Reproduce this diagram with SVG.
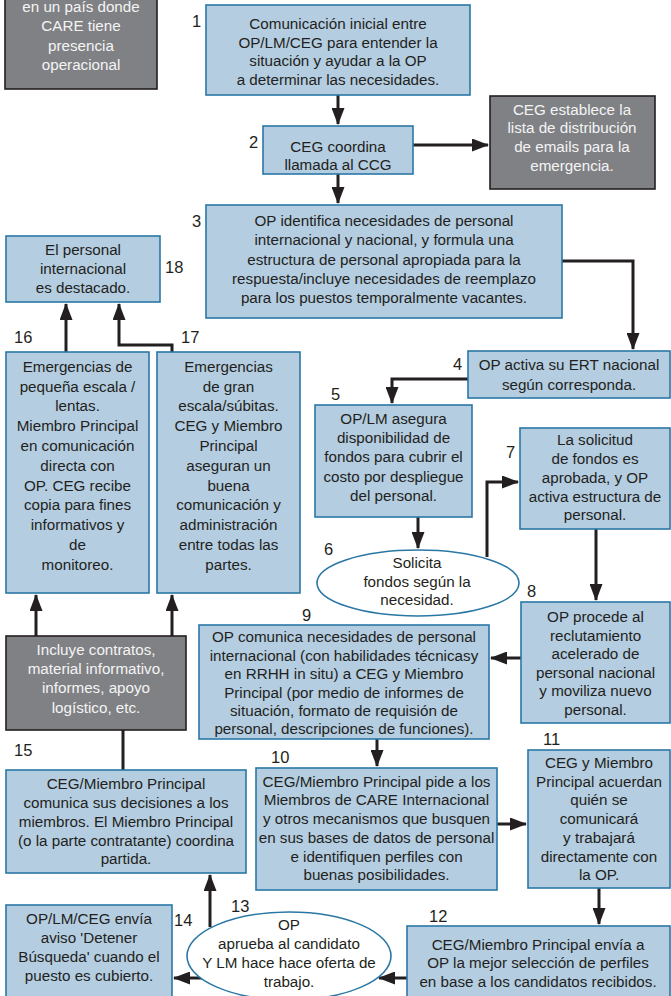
<svg xmlns="http://www.w3.org/2000/svg" width="671" height="996" viewBox="0 0 671 996">
<defs>
<marker id="ah" viewBox="0 0 17 13" refX="16" refY="6.5" markerWidth="17" markerHeight="13" markerUnits="userSpaceOnUse" orient="auto">
<path d="M0,0 L17,6.5 L0,13 z" fill="#231f20"/>
</marker>
<style>
.b{fill:#b4cde1;stroke:#2a77a5;stroke-width:1.6}
.d{fill:#808184;stroke:#231f20;stroke-width:1.6}
text{font-family:"Liberation Sans",Arial,sans-serif;font-size:15.2px;fill:#231f20;text-anchor:middle}
.w{fill:#f4f4f4}
.n{font-size:16.5px;text-anchor:start}
.c{fill:none;stroke:#231f20;stroke-width:3}
.a{marker-end:url(#ah)}
</style>
</defs>
<rect width="671" height="996" fill="#ffffff"/>

<g id="connectors">
<path class="c a" d="M338,95 V124"/>
<path class="c a" d="M338,174 V203"/>
<path class="c a" d="M413,145 H488"/>
<path class="c a" d="M562,261 H633 V349"/>
<path class="c a" d="M468,379 H392 V403"/>
<path class="c a" d="M418,517 V548"/>
<path class="c a" d="M487,557 V482 H518"/>
<path class="c a" d="M596,529 V600"/>
<path class="c a" d="M521,658 H491"/>
<path class="c a" d="M377,739 V766"/>
<path class="c a" d="M497,824 H526"/>
<path class="c a" d="M599,888 V924"/>
<path class="c a" d="M407,978 H379"/>
<path class="c a" d="M203,978 H174"/>
<path class="c a" d="M210,927 V875"/>
<path class="c a" d="M36,636 V595"/>
<path class="c a" d="M172,636 V595"/>
<path class="c" d="M123,730 V770"/>
<path class="c a" d="M66,352 V304"/>
<path class="c a" d="M172,352 V345 H119 V304"/>
</g>

<g id="node-pais">
<rect class="d" x="5" y="-10" width="152" height="99"/>
<text class="w" x="81" y="12">en un país donde</text>
<text class="w" x="81" y="31">CARE tiene</text>
<text class="w" x="81" y="51">presencia</text>
<text class="w" x="81" y="70">operacional</text>
</g>

<g id="node-1">
<rect class="b" x="206" y="5" width="264" height="90"/>
<text x="338" y="29">Comunicación inicial entre</text>
<text x="338" y="48">OP/LM/CEG para entender la</text>
<text x="338" y="66">situación y ayudar a la OP</text>
<text x="338" y="85">a determinar las necesidades.</text>
<text class="n" x="192" y="27">1</text>
</g>

<g id="node-2">
<rect class="b" x="263" y="126" width="150" height="48"/>
<text x="338" y="152">CEG coordina</text>
<text x="338" y="170">llamada al CCG</text>
<text class="n" x="249" y="148">2</text>
</g>

<g id="node-email">
<rect class="d" x="490" y="96" width="165" height="93"/>
<text class="w" x="572" y="115">CEG establece la</text>
<text class="w" x="572" y="133">lista de distribución</text>
<text class="w" x="572" y="152">de emails para la</text>
<text class="w" x="572" y="171">emergencia.</text>
</g>

<g id="node-3">
<rect class="b" x="206" y="205" width="356" height="113"/>
<text x="384" y="226">OP identifica necesidades de personal</text>
<text x="384" y="245">internacional y nacional, y formula una</text>
<text x="384" y="265">estructura de personal apropiada para la</text>
<text x="384" y="284">respuesta/incluye necesidades de reemplazo</text>
<text x="384" y="303">para los puestos temporalmente vacantes.</text>
<text class="n" x="192" y="227">3</text>
</g>

<g id="node-4">
<rect class="b" x="468" y="351" width="202" height="47"/>
<text x="569" y="370">OP activa su ERT nacional</text>
<text x="569" y="390">según corresponda.</text>
<text class="n" x="453" y="370">4</text>
</g>

<g id="node-5">
<rect class="b" x="315" y="405" width="157" height="112"/>
<text x="393.5" y="424">OP/LM asegura</text>
<text x="393.5" y="443">disponibilidad de</text>
<text x="393.5" y="462">fondos para cubrir el</text>
<text x="393.5" y="482">costo por despliegue</text>
<text x="393.5" y="501">del personal.</text>
<text class="n" x="331" y="400">5</text>
</g>

<g id="node-6">
<ellipse cx="418" cy="583" rx="101" ry="33" fill="#ffffff" stroke="#2a77a5" stroke-width="1.6"/>
<text x="417" y="568">Solicita</text>
<text x="417" y="587">fondos según la</text>
<text x="417" y="605">necesidad.</text>
<text class="n" x="324" y="555">6</text>
</g>

<g id="node-7">
<rect class="b" x="520" y="428" width="150" height="101"/>
<text x="595" y="445">La solicitud</text>
<text x="595" y="464">de fondos es</text>
<text x="595" y="483">aprobada, y OP</text>
<text x="595" y="502">activa estructura de</text>
<text x="595" y="520">personal.</text>
<text class="n" x="506" y="458">7</text>
</g>

<g id="node-8">
<rect class="b" x="521" y="602" width="149" height="121"/>
<text x="595.5" y="622">OP procede al</text>
<text x="595.5" y="641">reclutamiento</text>
<text x="595.5" y="659">acelerado de</text>
<text x="595.5" y="678">personal nacional</text>
<text x="595.5" y="696">y moviliza nuevo</text>
<text x="595.5" y="715">personal.</text>
<text class="n" x="527" y="597">8</text>
</g>

<g id="node-9">
<rect class="b" x="199" y="625" width="290" height="114"/>
<text x="344" y="642">OP comunica necesidades de personal</text>
<text x="344" y="661">internacional (con habilidades técnicasy</text>
<text x="344" y="679">en RRHH in situ) a CEG y Miembro</text>
<text x="344" y="698">Principal (por medio de informes de</text>
<text x="344" y="716">situación, formato de requisión de</text>
<text x="344" y="734">personal, descripciones de funciones).</text>
<text class="n" x="302" y="621">9</text>
</g>

<g id="node-10">
<rect class="b" x="256" y="768" width="241" height="122"/>
<text x="376.5" y="787">CEG/Miembro Principal pide a los</text>
<text x="376.5" y="805">Miembros de CARE Internacional</text>
<text x="376.5" y="824">y otros mecanismos que busquen</text>
<text x="376.5" y="843">en sus bases de datos de personal</text>
<text x="376.5" y="862">e identifiquen perfiles con</text>
<text x="376.5" y="880">buenas posibilidades.</text>
<text class="n" x="271" y="763">10</text>
</g>

<g id="node-11">
<rect class="b" x="528" y="750" width="142" height="138"/>
<text x="599" y="768">CEG y Miembro</text>
<text x="599" y="787">Principal acuerdan</text>
<text x="599" y="805">quién se</text>
<text x="599" y="824">comunicará</text>
<text x="599" y="843">y trabajará</text>
<text x="599" y="862">directamente con</text>
<text x="599" y="880">la OP.</text>
<text class="n" x="543" y="745">11</text>
</g>

<g id="node-12">
<rect class="b" x="407" y="926" width="263" height="80"/>
<text x="538" y="950">CEG/Miembro Principal envía a</text>
<text x="538" y="968">OP la mejor selección de perfiles</text>
<text x="538" y="987">en base a los candidatos recibidos.</text>
<text class="n" x="429" y="922">12</text>
</g>

<g id="node-13">
<ellipse cx="289" cy="956" rx="102" ry="44" fill="#ffffff" stroke="#2a77a5" stroke-width="1.6"/>
<text x="289" y="930">OP</text>
<text x="289" y="949">aprueba al candidato</text>
<text x="289" y="968">Y LM hace hace oferta de</text>
<text x="289" y="987">trabajo.</text>
<text class="n" x="231" y="912">13</text>
</g>

<g id="node-14">
<rect class="b" x="6" y="905" width="166" height="100"/>
<text x="89" y="924">OP/LM/CEG envía</text>
<text x="89" y="943">aviso 'Detener</text>
<text x="89" y="962">Búsqueda' cuando el</text>
<text x="89" y="981">puesto es cubierto.</text>
<text class="n" x="174" y="926">14</text>
</g>

<g id="node-15">
<rect class="b" x="6" y="770" width="240" height="103"/>
<text x="126" y="789">CEG/Miembro Principal</text>
<text x="126" y="808">comunica sus decisiones a los</text>
<text x="126" y="827">miembros. El Miembro Principal</text>
<text x="126" y="846">(o la parte contratante) coordina</text>
<text x="126" y="864">partida.</text>
<text class="n" x="14" y="756">15</text>
</g>

<g id="node-incluye">
<rect class="d" x="6" y="636" width="180" height="94"/>
<text class="w" x="96" y="655">Incluye contratos,</text>
<text class="w" x="96" y="674">material informativo,</text>
<text class="w" x="96" y="693">informes, apoyo</text>
<text class="w" x="96" y="713">logístico, etc.</text>
</g>

<g id="node-16">
<rect class="b" x="6" y="352" width="143" height="241"/>
<text x="77.5" y="372">Emergencias de</text>
<text x="77.5" y="392">pequeña escala /</text>
<text x="77.5" y="411">lentas.</text>
<text x="77.5" y="431">Miembro Principal</text>
<text x="77.5" y="451">en comunicación</text>
<text x="77.5" y="471">directa con</text>
<text x="77.5" y="491">OP. CEG recibe</text>
<text x="77.5" y="510">copia para fines</text>
<text x="77.5" y="530">informativos y</text>
<text x="77.5" y="550">de</text>
<text x="77.5" y="570">monitoreo.</text>
<text class="n" x="14" y="343">16</text>
</g>

<g id="node-17">
<rect class="b" x="157" y="352" width="143" height="241"/>
<text x="228.5" y="372">Emergencias</text>
<text x="228.5" y="392">de gran</text>
<text x="228.5" y="411">escala/súbitas.</text>
<text x="228.5" y="431">CEG y Miembro</text>
<text x="228.5" y="451">Principal</text>
<text x="228.5" y="471">aseguran un</text>
<text x="228.5" y="491">buena</text>
<text x="228.5" y="510">comunicación y</text>
<text x="228.5" y="530">administración</text>
<text x="228.5" y="550">entre todas las</text>
<text x="228.5" y="570">partes.</text>
<text class="n" x="181" y="343">17</text>
</g>

<g id="node-18">
<rect class="b" x="6" y="236" width="154" height="66"/>
<text x="83" y="255">El personal</text>
<text x="83" y="274">internacional</text>
<text x="83" y="293">es destacado.</text>
<text class="n" x="165" y="273">18</text>
</g>
</svg>
